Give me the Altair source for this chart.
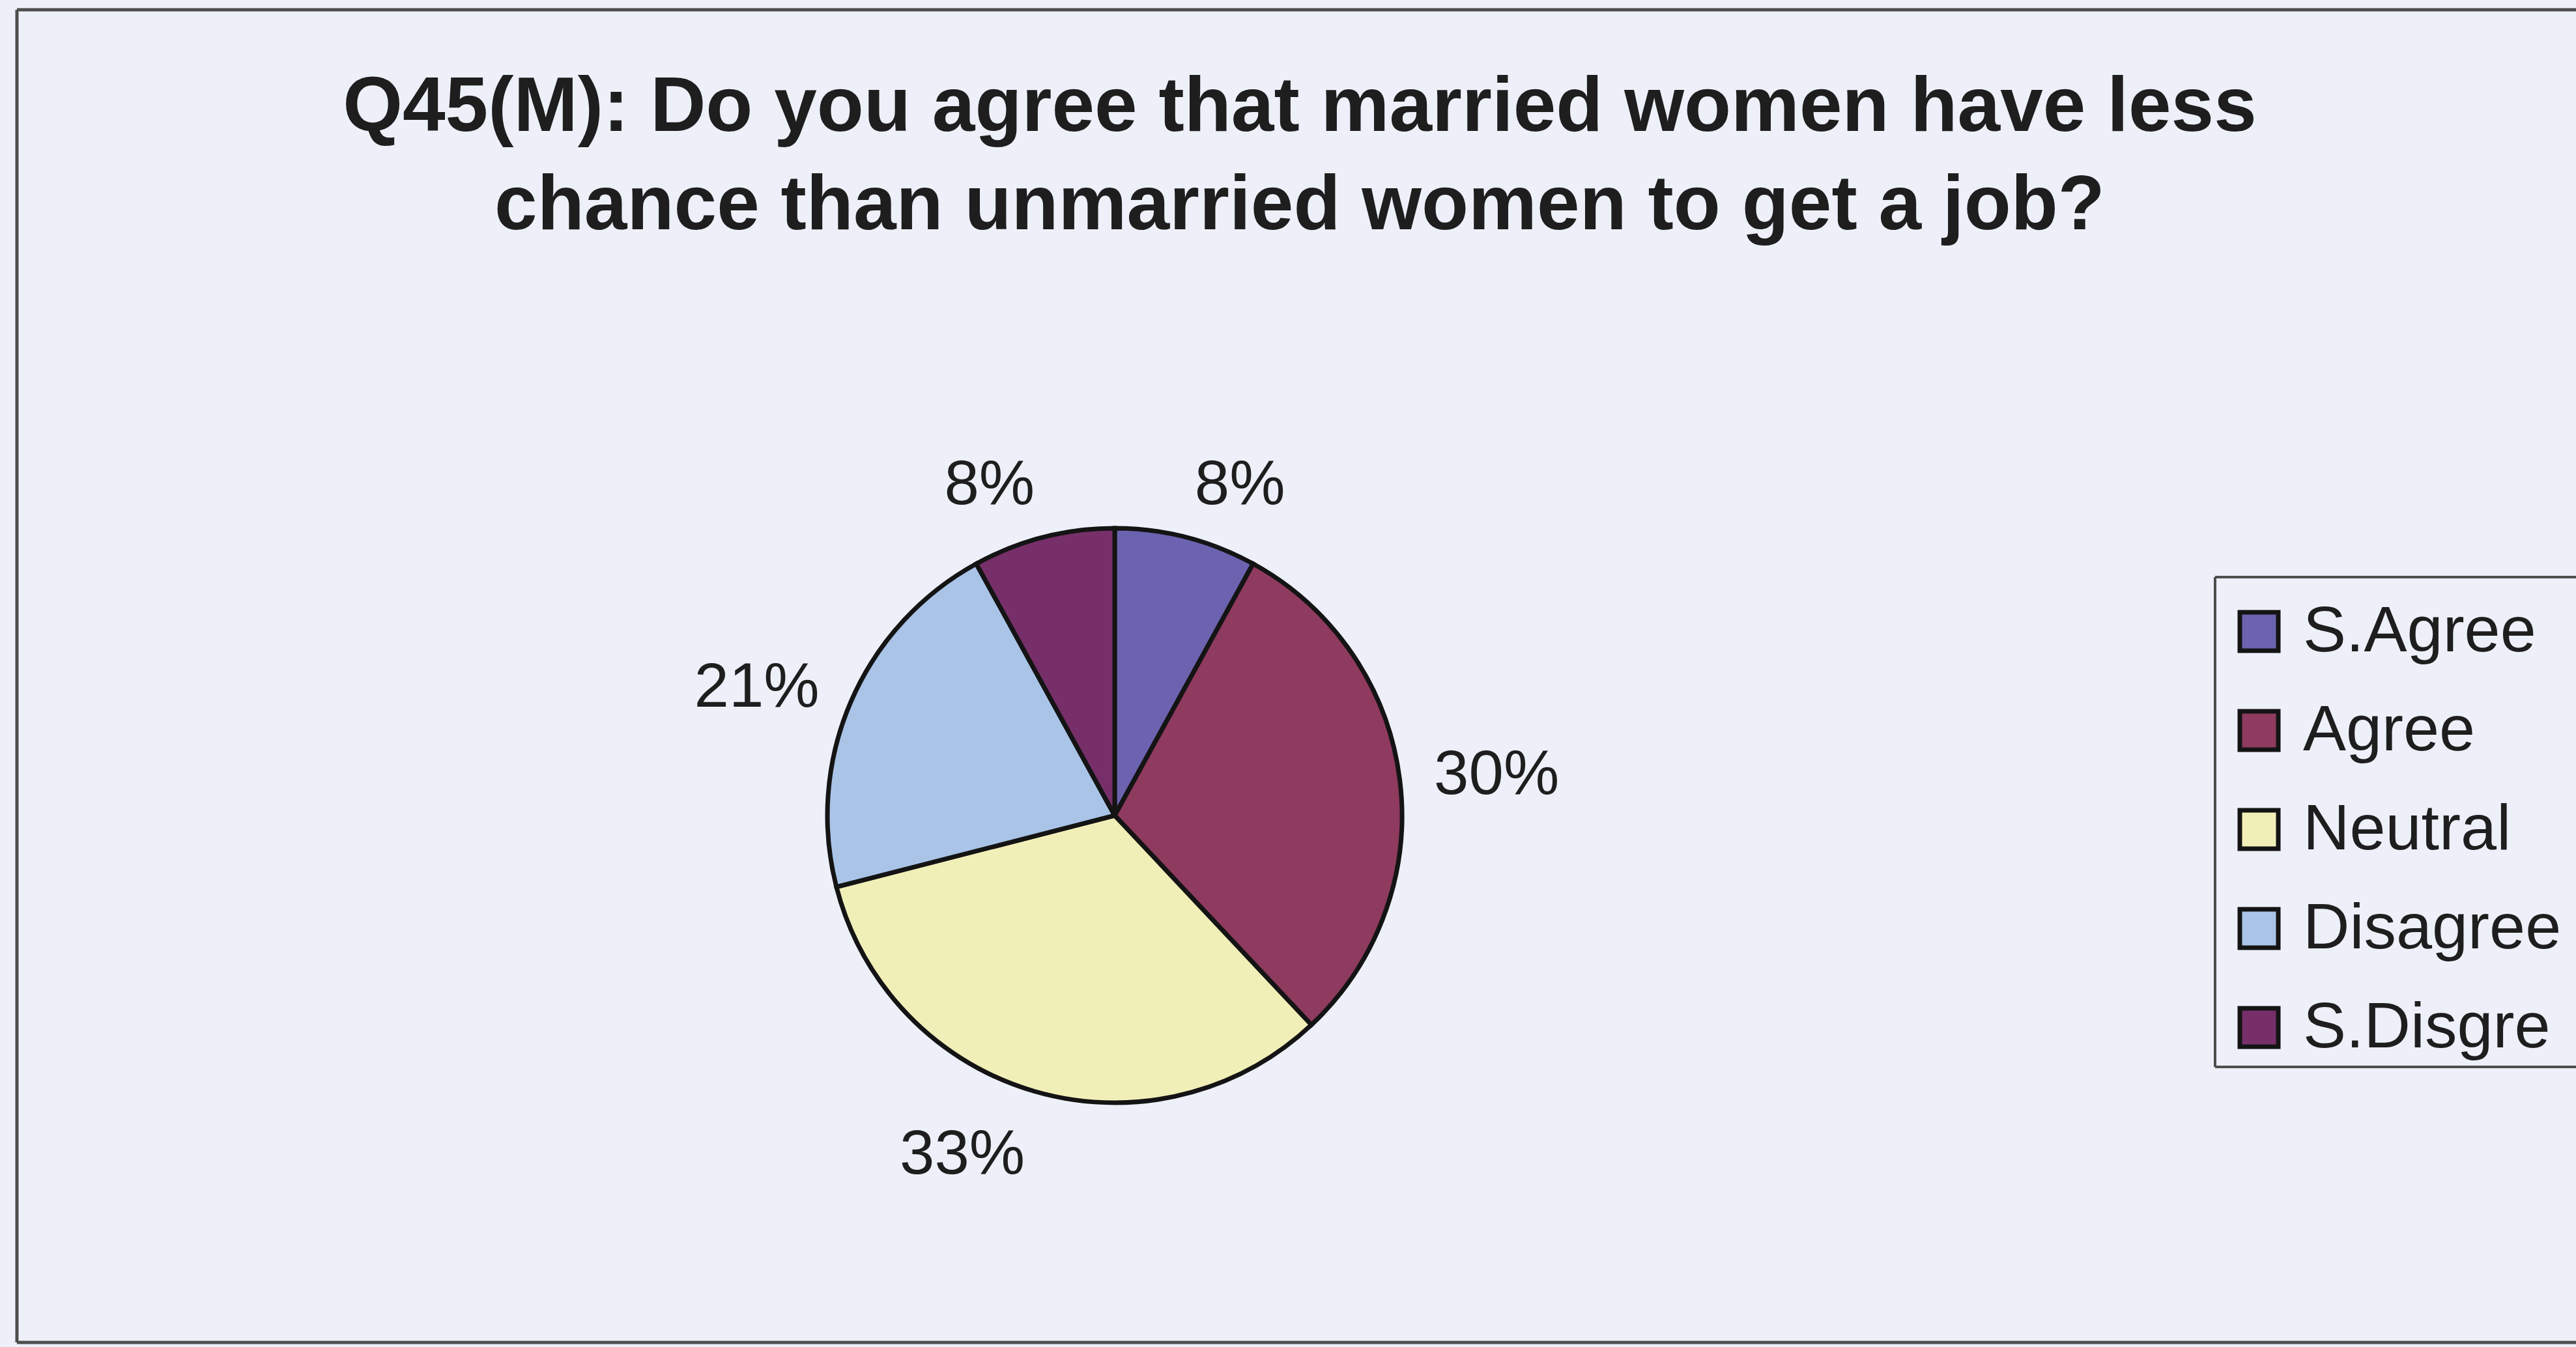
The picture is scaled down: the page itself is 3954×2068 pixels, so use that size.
import math

import altair as alt
import pandas as pd

# Survey responses, clockwise from 12 o'clock
categories = ["S.Agree", "Agree", "Neutral", "Disagree", "S.Disgre"]
percentages = [8, 30, 33, 21, 8]
slice_colors = ["#6b63b0", "#8f3a5f", "#f1efb8", "#a9c4e7", "#772f69"]
title_lines = [
    "Q45(M): Do you agree that married women have less",
    "chance than unmarried women to get a job?",
]

df = pd.DataFrame(
    {"response": categories, "pct": percentages, "rank": list(range(len(categories)))}
)
total = sum(percentages)

W, H = 3954, 2068
CX, CY = 1711, 1252          # pie centre
R = 441                      # pie radius
LABEL_R = 494                # anchor radius of the percentage labels
FONT = "Liberation Sans"
INK = "#1e1e1e"
OUTLINE = "#141414"
FRAME = "#4e4e4e"
BG = "#edf0f9"

theta_scale = alt.Scale(domain=[0, total], range=[0, 2 * math.pi])

color = alt.Color(
    "response:N",
    scale=alt.Scale(domain=categories, range=slice_colors),
    legend=alt.Legend(
        title=None,
        orient="none",
        legendX=3418,
        legendY=920,
        direction="vertical",
        symbolType="square",
        symbolSize=3481,
        symbolStrokeColor=OUTLINE,
        symbolStrokeWidth=7,
        symbolOpacity=1,
        labelFont=FONT,
        labelFontSize=99,
        labelColor=INK,
        labelOffset=18,
        labelLimit=2000,
        rowPadding=52,
        padding=0,
    ),
)

base = alt.Chart(df)

pie = base.mark_arc(radius=R, stroke=OUTLINE, strokeWidth=7).encode(
    theta=alt.Theta("pct:Q", stack=True, scale=theta_scale),
    order=alt.Order("rank:Q"),
    color=color,
    x=alt.value(CX),
    y=alt.value(CY),
)


def label_layer(side_test, vert_test, align, baseline):
    """Percent labels outside the pie, anchored at each slice's mid angle."""
    return (
        base.transform_joinaggregate(total="sum(pct)")
        .transform_window(cum="sum(pct)", sort=[alt.SortField("rank")], frame=[None, 0])
        .transform_calculate(
            mid="datum.cum - datum.pct / 2",
            ang="2 * PI * (datum.cum - datum.pct / 2) / datum.total",
            label="datum.pct + '%'",
        )
        .transform_filter(side_test)
        .transform_filter(vert_test)
        .mark_text(
            radius=LABEL_R,
            align=align,
            baseline=baseline,
            font=FONT,
            fontSize=96,
            color=INK,
        )
        .encode(
            theta=alt.Theta("mid:Q", stack=None, scale=theta_scale),
            text=alt.Text("label:N"),
            x=alt.value(CX),
            y=alt.value(CY),
        )
    )


sides = [("sin(datum.ang) >= 0", "left"), ("sin(datum.ang) < 0", "right")]
verts = [
    ("cos(datum.ang) > 0.8", "alphabetic"),
    ("cos(datum.ang) < -0.8", "top"),
    ("abs(cos(datum.ang)) <= 0.8", "middle"),
]
labels = [label_layer(s, v, a, b) for s, a in sides for v, b in verts]

# Outer frame (open on the right) and the legend frame
one = alt.Data(values=[{"k": 1}])


def hline(x1, x2, y, width):
    return alt.Chart(one).mark_rule(color=FRAME, strokeWidth=width).encode(
        x=alt.value(x1), x2=alt.value(x2), y=alt.value(y)
    )


def vline(x, y1, y2, width):
    return alt.Chart(one).mark_rule(color=FRAME, strokeWidth=width).encode(
        x=alt.value(x), y=alt.value(y1), y2=alt.value(y2)
    )


frame = [
    hline(26, W, 15, 5),
    hline(26, W, 2061, 5),
    vline(26, 15, 2061, 5),
    hline(3400, W, 886, 4),
    hline(3400, W, 1638, 4),
    vline(3400, 886, 1638, 4),
]

chart = (
    alt.layer(pie, *labels, *frame)
    .properties(
        width=W,
        height=H,
        padding=0,
        autosize=alt.AutoSizeParams(type="none"),
        background=BG,
        title=alt.TitleParams(
            text=title_lines,
            font=FONT,
            fontSize=118,
            fontWeight="bold",
            color=INK,
            anchor="middle",
            lineHeight=151,
            offset=0,
            dx=18,
            dy=377,
        ),
    )
    .configure_view(stroke=None, fill=None)
)

chart.save("out.html", embed_options={"renderer": "svg", "actions": False})
